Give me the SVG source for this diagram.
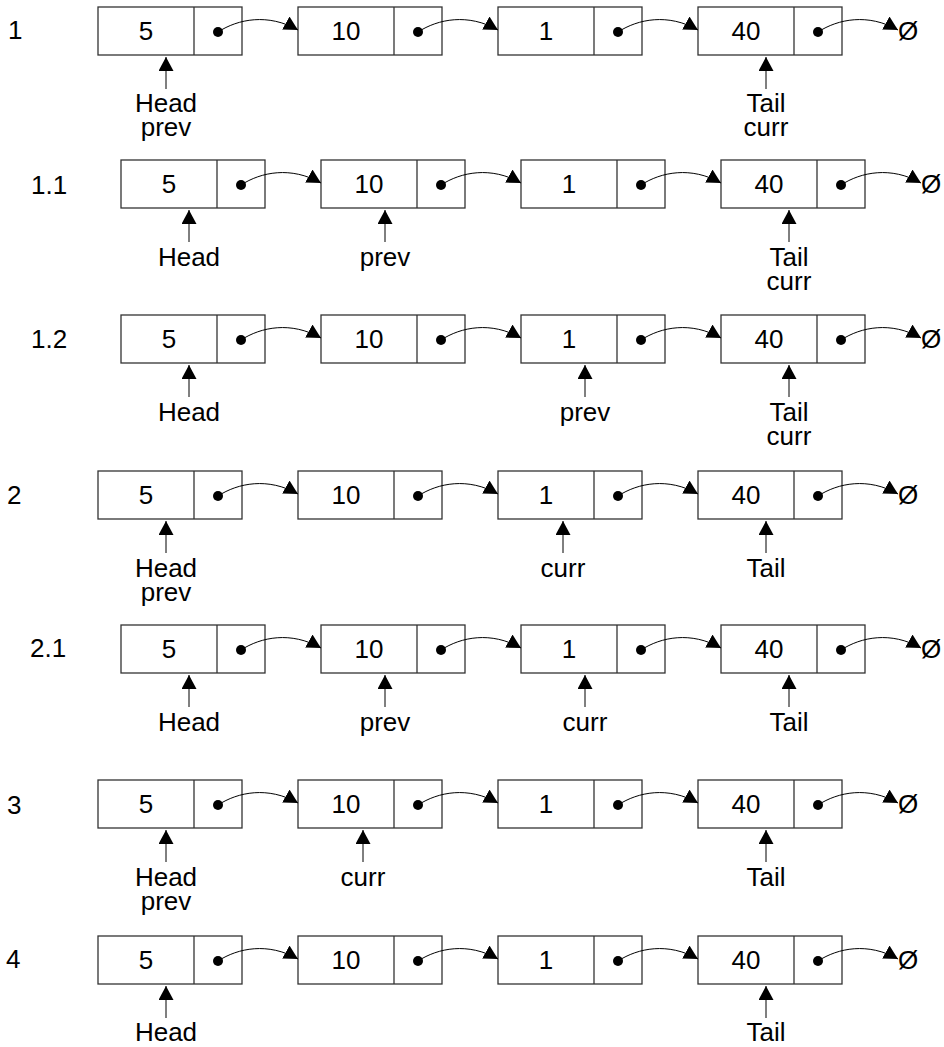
<svg xmlns="http://www.w3.org/2000/svg" width="944" height="1047" viewBox="0 0 944 1047">
<style>
text{font-family:"Liberation Sans",Arial,sans-serif;fill:#000}
.val{font-size:26px;text-anchor:middle}
.row{font-size:26px}
.lbl{font-size:26px;text-anchor:middle}
.nil{font-size:26px}
.conn path,.conn line{fill:none;stroke:#000;stroke-width:1;marker-end:url(#ah)}
</style>
<defs>
<marker id="ah" markerUnits="userSpaceOnUse" markerWidth="15" markerHeight="15" refX="14" refY="7.5" orient="auto" viewBox="0 0 15 15"><path d="M0,0 L14,7.5 L0,15 z" fill="#000"/></marker>
<g id="cell"><rect width="144" height="48" fill="#fff" stroke="#333" stroke-width="1.3"/><line x1="96" y1="0" x2="96" y2="48" stroke="#333" stroke-width="1.3"/><circle cx="120" cy="25" r="5" fill="#000"/></g>
</defs>

<!-- row labels -->
<g id="row-labels">
<text class="row" x="8" y="39">1</text>
<text class="row" x="31" y="194">1.1</text>
<text class="row" x="31" y="348">1.2</text>
<text class="row" x="7" y="504">2</text>
<text class="row" x="30" y="657">2.1</text>
<text class="row" x="7" y="814">3</text>
<text class="row" x="6" y="968">4</text>
</g>

<!-- Row 1 -->
<g id="r1-n1" class="node" transform="translate(98,7)"><use href="#cell"/><text class="val" x="48" y="33">5</text></g>
<g id="r1-n2" class="node" transform="translate(298,7)"><use href="#cell"/><text class="val" x="48" y="33">10</text></g>
<g id="r1-n3" class="node" transform="translate(498,7)"><use href="#cell"/><text class="val" x="48" y="33">1</text></g>
<g id="r1-n4" class="node" transform="translate(698,7)"><use href="#cell"/><text class="val" x="48" y="33">40</text></g>
<g id="r1-nil"><text class="nil" x="898" y="40">Ø</text></g>

<!-- Row 1.1 -->
<g id="r11-n1" class="node" transform="translate(121,160)"><use href="#cell"/><text class="val" x="48" y="33">5</text></g>
<g id="r11-n2" class="node" transform="translate(321,160)"><use href="#cell"/><text class="val" x="48" y="33">10</text></g>
<g id="r11-n3" class="node" transform="translate(521,160)"><use href="#cell"/><text class="val" x="48" y="33">1</text></g>
<g id="r11-n4" class="node" transform="translate(721,160)"><use href="#cell"/><text class="val" x="48" y="33">40</text></g>
<g id="r11-nil"><text class="nil" x="921" y="193">Ø</text></g>

<!-- Row 1.2 -->
<g id="r12-n1" class="node" transform="translate(121,315)"><use href="#cell"/><text class="val" x="48" y="33">5</text></g>
<g id="r12-n2" class="node" transform="translate(321,315)"><use href="#cell"/><text class="val" x="48" y="33">10</text></g>
<g id="r12-n3" class="node" transform="translate(521,315)"><use href="#cell"/><text class="val" x="48" y="33">1</text></g>
<g id="r12-n4" class="node" transform="translate(721,315)"><use href="#cell"/><text class="val" x="48" y="33">40</text></g>
<g id="r12-nil"><text class="nil" x="921" y="348">Ø</text></g>

<!-- Row 2 -->
<g id="r2-n1" class="node" transform="translate(98,471)"><use href="#cell"/><text class="val" x="48" y="33">5</text></g>
<g id="r2-n2" class="node" transform="translate(298,471)"><use href="#cell"/><text class="val" x="48" y="33">10</text></g>
<g id="r2-n3" class="node" transform="translate(498,471)"><use href="#cell"/><text class="val" x="48" y="33">1</text></g>
<g id="r2-n4" class="node" transform="translate(698,471)"><use href="#cell"/><text class="val" x="48" y="33">40</text></g>
<g id="r2-nil"><text class="nil" x="898" y="504">Ø</text></g>

<!-- Row 2.1 -->
<g id="r21-n1" class="node" transform="translate(121,625)"><use href="#cell"/><text class="val" x="48" y="33">5</text></g>
<g id="r21-n2" class="node" transform="translate(321,625)"><use href="#cell"/><text class="val" x="48" y="33">10</text></g>
<g id="r21-n3" class="node" transform="translate(521,625)"><use href="#cell"/><text class="val" x="48" y="33">1</text></g>
<g id="r21-n4" class="node" transform="translate(721,625)"><use href="#cell"/><text class="val" x="48" y="33">40</text></g>
<g id="r21-nil"><text class="nil" x="921" y="658">Ø</text></g>

<!-- Row 3 -->
<g id="r3-n1" class="node" transform="translate(98,780)"><use href="#cell"/><text class="val" x="48" y="33">5</text></g>
<g id="r3-n2" class="node" transform="translate(298,780)"><use href="#cell"/><text class="val" x="48" y="33">10</text></g>
<g id="r3-n3" class="node" transform="translate(498,780)"><use href="#cell"/><text class="val" x="48" y="33">1</text></g>
<g id="r3-n4" class="node" transform="translate(698,780)"><use href="#cell"/><text class="val" x="48" y="33">40</text></g>
<g id="r3-nil"><text class="nil" x="898" y="813">Ø</text></g>

<!-- Row 4 -->
<g id="r4-n1" class="node" transform="translate(98,936)"><use href="#cell"/><text class="val" x="48" y="33">5</text></g>
<g id="r4-n2" class="node" transform="translate(298,936)"><use href="#cell"/><text class="val" x="48" y="33">10</text></g>
<g id="r4-n3" class="node" transform="translate(498,936)"><use href="#cell"/><text class="val" x="48" y="33">1</text></g>
<g id="r4-n4" class="node" transform="translate(698,936)"><use href="#cell"/><text class="val" x="48" y="33">40</text></g>
<g id="r4-nil"><text class="nil" x="898" y="969">Ø</text></g>

<!-- pointer labels -->
<g id="pointer-labels">
<text class="lbl" x="166" y="112">Head</text><text class="lbl" x="166" y="136">prev</text>
<text class="lbl" x="766" y="112">Tail</text><text class="lbl" x="766" y="136">curr</text>

<text class="lbl" x="189" y="266">Head</text>
<text class="lbl" x="385" y="266">prev</text>
<text class="lbl" x="789" y="266">Tail</text><text class="lbl" x="789" y="290">curr</text>

<text class="lbl" x="189" y="421">Head</text>
<text class="lbl" x="585" y="421">prev</text>
<text class="lbl" x="789" y="421">Tail</text><text class="lbl" x="789" y="445">curr</text>

<text class="lbl" x="166" y="577">Head</text><text class="lbl" x="166" y="601">prev</text>
<text class="lbl" x="563" y="577">curr</text>
<text class="lbl" x="766" y="577">Tail</text>

<text class="lbl" x="189" y="731">Head</text>
<text class="lbl" x="385" y="731">prev</text>
<text class="lbl" x="585" y="731">curr</text>
<text class="lbl" x="789" y="731">Tail</text>

<text class="lbl" x="166" y="886">Head</text><text class="lbl" x="166" y="910">prev</text>
<text class="lbl" x="363" y="886">curr</text>
<text class="lbl" x="766" y="886">Tail</text>

<text class="lbl" x="166" y="1041">Head</text>
<text class="lbl" x="766" y="1041">Tail</text>
</g>

<!-- connectors -->
<g id="connectors" class="conn">
<!-- row 1 -->
<path d="M218,32 C238,19 268,13 298,30"/>
<path d="M418,32 C438,19 468,13 498,30"/>
<path d="M618,32 C638,19 668,13 698,30"/>
<path d="M818,32 C838,19 868,13 898,30"/>
<line x1="166" y1="89" x2="166" y2="57"/>
<line x1="766" y1="89" x2="766" y2="57"/>
<!-- row 1.1 -->
<path d="M241,185 C261,172 291,166 321,183"/>
<path d="M441,185 C461,172 491,166 521,183"/>
<path d="M641,185 C661,172 691,166 721,183"/>
<path d="M841,185 C861,172 891,166 921,183"/>
<line x1="189" y1="242" x2="189" y2="210"/>
<line x1="385" y1="242" x2="385" y2="210"/>
<line x1="789" y1="242" x2="789" y2="210"/>
<!-- row 1.2 -->
<path d="M241,340 C261,327 291,321 321,338"/>
<path d="M441,340 C461,327 491,321 521,338"/>
<path d="M641,340 C661,327 691,321 721,338"/>
<path d="M841,340 C861,327 891,321 921,338"/>
<line x1="189" y1="397" x2="189" y2="365"/>
<line x1="585" y1="397" x2="585" y2="365"/>
<line x1="789" y1="397" x2="789" y2="365"/>
<!-- row 2 -->
<path d="M218,496 C238,483 268,477 298,494"/>
<path d="M418,496 C438,483 468,477 498,494"/>
<path d="M618,496 C638,483 668,477 698,494"/>
<path d="M818,496 C838,483 868,477 898,494"/>
<line x1="166" y1="553" x2="166" y2="521"/>
<line x1="563" y1="553" x2="563" y2="521"/>
<line x1="766" y1="553" x2="766" y2="521"/>
<!-- row 2.1 -->
<path d="M241,650 C261,637 291,631 321,648"/>
<path d="M441,650 C461,637 491,631 521,648"/>
<path d="M641,650 C661,637 691,631 721,648"/>
<path d="M841,650 C861,637 891,631 921,648"/>
<line x1="189" y1="707" x2="189" y2="675"/>
<line x1="385" y1="707" x2="385" y2="675"/>
<line x1="585" y1="707" x2="585" y2="675"/>
<line x1="789" y1="707" x2="789" y2="675"/>
<!-- row 3 -->
<path d="M218,805 C238,792 268,786 298,803"/>
<path d="M418,805 C438,792 468,786 498,803"/>
<path d="M618,805 C638,792 668,786 698,803"/>
<path d="M818,805 C838,792 868,786 898,803"/>
<line x1="166" y1="862" x2="166" y2="830"/>
<line x1="363" y1="862" x2="363" y2="830"/>
<line x1="766" y1="862" x2="766" y2="830"/>
<!-- row 4 -->
<path d="M218,961 C238,948 268,942 298,959"/>
<path d="M418,961 C438,948 468,942 498,959"/>
<path d="M618,961 C638,948 668,942 698,959"/>
<path d="M818,961 C838,948 868,942 898,959"/>
<line x1="166" y1="1018" x2="166" y2="986"/>
<line x1="766" y1="1018" x2="766" y2="986"/>
</g>
</svg>
